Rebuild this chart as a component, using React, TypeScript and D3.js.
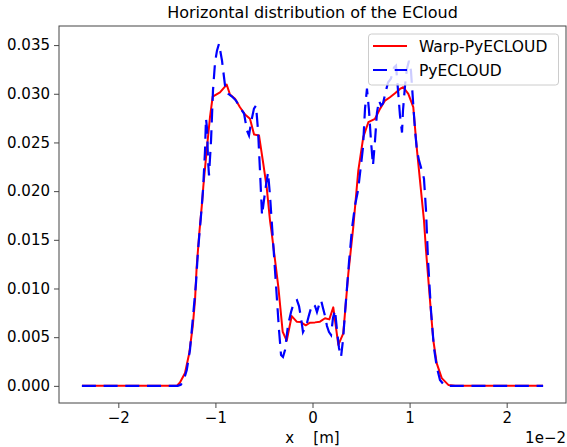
import React, { useEffect, useRef } from 'react'
import * as d3 from 'd3'

// Warp-PyECLOUD (rode lijn), x in 1e-2 m
const xRed = [-2.375, -1.398, -1.365, -1.313, -1.269, -1.234, -1.21, -1.193, -1.166, -1.135, -1.125, -1.09, -1.056, -1.028, -0.953, -0.884, -0.85, -0.798, -0.747, -0.695, -0.644, -0.602, -0.551, -0.507, -0.472, -0.438, -0.42, -0.352, -0.307, -0.266, -0.214, -0.163, -0.122, -0.07, -0.026, 0.026, 0.077, 0.129, 0.173, 0.214, 0.266, 0.317, 0.369, 0.42, 0.472, 0.523, 0.575, 0.644, 0.695, 0.747, 0.798, 0.85, 0.901, 0.935, 0.987, 1.038, 1.073, 1.107, 1.148, 1.169, 1.21, 1.244, 1.279, 1.331, 1.399, 1.47, 2.375]
const yRed = [0, 0, 0.00034, 0.00133, 0.00338, 0.00608, 0.00881, 0.01222, 0.01568, 0.01906, 0.02042, 0.02418, 0.02759, 0.02971, 0.03015, 0.03094, 0.02992, 0.02948, 0.02862, 0.02787, 0.02743, 0.02582, 0.02572, 0.02282, 0.02042, 0.01701, 0.01568, 0.01017, 0.00556, 0.00464, 0.00717, 0.00659, 0.00656, 0.00622, 0.00649, 0.00652, 0.00659, 0.00694, 0.00683, 0.00806, 0.0042, 0.0054, 0.01155, 0.01632, 0.02213, 0.02554, 0.02708, 0.02743, 0.02845, 0.0293, 0.02964, 0.03005, 0.0305, 0.03067, 0.02999, 0.02862, 0.02452, 0.02111, 0.01701, 0.01393, 0.00881, 0.00471, 0.00233, 0.00079, 0.0001, 0, 0]

// PyECLOUD (blauwe stippellijn)
const xBlue = [-2.375, -1.388, -1.357, -1.326, -1.295, -1.262, -1.231, -1.2, -1.179, -1.148, -1.128, -1.107, -1.097, -1.086, -1.076, -1.066, -1.045, -1.025, -1.004, -0.984, -0.963, -0.932, -0.901, -0.87, -0.829, -0.788, -0.747, -0.705, -0.675, -0.654, -0.633, -0.603, -0.582, -0.561, -0.541, -0.52, -0.5, -0.479, -0.458, -0.438, -0.407, -0.376, -0.345, -0.324, -0.304, -0.283, -0.252, -0.221, -0.191, -0.16, -0.139, -0.118, -0.098, -0.077, -0.057, -0.036, -0.015, 0.005, 0.026, 0.046, 0.067, 0.088, 0.108, 0.129, 0.149, 0.17, 0.191, 0.211, 0.232, 0.252, 0.273, 0.294, 0.314, 0.345, 0.376, 0.407, 0.438, 0.469, 0.499, 0.52, 0.541, 0.561, 0.582, 0.602, 0.623, 0.644, 0.664, 0.685, 0.705, 0.726, 0.757, 0.778, 0.808, 0.839, 0.86, 0.881, 0.901, 0.922, 0.932, 0.953, 0.973, 0.994, 1.014, 1.035, 1.056, 1.076, 1.097, 1.117, 1.148, 1.169, 1.19, 1.22, 1.251, 1.282, 1.313, 1.354, 1.395, 2.375]
const yBlue = [0, 0, 0.0001, 0.0006, 0.00164, 0.00369, 0.00707, 0.01055, 0.01393, 0.01752, 0.02008, 0.02418, 0.02746, 0.02643, 0.02316, 0.02162, 0.02521, 0.03033, 0.0332, 0.03443, 0.03514, 0.0334, 0.03084, 0.03002, 0.02971, 0.0293, 0.02859, 0.02797, 0.02623, 0.02572, 0.02705, 0.02848, 0.02879, 0.02623, 0.02213, 0.01752, 0.01906, 0.02059, 0.02193, 0.01957, 0.01496, 0.01035, 0.00574, 0.00318, 0.00297, 0.00369, 0.00625, 0.00758, 0.00861, 0.00881, 0.0082, 0.00697, 0.00553, 0.00594, 0.00646, 0.00727, 0.00799, 0.0084, 0.0082, 0.00758, 0.0083, 0.00881, 0.00799, 0.00717, 0.00615, 0.00553, 0.00523, 0.00697, 0.00779, 0.00574, 0.00389, 0.00297, 0.00471, 0.00881, 0.0127, 0.01619, 0.01854, 0.02008, 0.02264, 0.02449, 0.02848, 0.03053, 0.02828, 0.02521, 0.02264, 0.02521, 0.02807, 0.0293, 0.02879, 0.029, 0.03033, 0.03115, 0.03156, 0.03268, 0.03289, 0.03033, 0.02777, 0.02602, 0.02828, 0.03084, 0.03258, 0.0334, 0.03238, 0.0293, 0.02623, 0.02418, 0.02316, 0.02244, 0.02131, 0.01803, 0.01291, 0.00779, 0.00389, 0.00184, 0.00061, 0.0001, 0, 0]

const xTicks = [-2, -1, 0, 1, 2]
const yTicks = [0, 0.005, 0.01, 0.015, 0.02, 0.025, 0.03, 0.035]
const seriesNames = ['Warp-PyECLOUD', 'PyECLOUD']

const W = 567
const H = 447
const font = 'DejaVu Sans, sans-serif'

export default function App() {
	const ref = useRef<SVGSVGElement>(null)

	useEffect(() => {
		const svg = d3.select(ref.current)
		svg.selectAll('*').remove()

		// plotgebied
		const left = 59, right = 566, top = 26, bottom = 403
		const x = d3.scaleLinear().domain([-2.611, 2.611]).range([left, right])
		const y = d3.scaleLinear().domain([-0.00176, 0.03696]).range([bottom, top])

		svg.append('clipPath').attr('id', 'clip')
			.append('rect').attr('x', left).attr('y', top).attr('width', right - left).attr('height', bottom - top)

		const line = d3.line<[number, number]>().x(d => x(d[0])).y(d => y(d[1]))
		const red = xRed.map((v, i) => [v, yRed[i]] as [number, number])
		const blue = xBlue.map((v, i) => [v, yBlue[i]] as [number, number])

		const plot = svg.append('g').attr('clip-path', 'url(#clip)')
		plot.append('path').attr('d', line(red)).attr('fill', 'none').attr('stroke', '#ff0000').attr('stroke-width', 2).attr('stroke-linejoin', 'round')
		plot.append('path').attr('d', line(blue)).attr('fill', 'none').attr('stroke', '#0000ff').attr('stroke-width', 2.2).attr('stroke-dasharray', '14 7.7')

		// assen
		const xaxis = d3.axisBottom(x).tickValues(xTicks).tickSize(5).tickPadding(4).tickFormat(d3.format('d'))
		const yaxis = d3.axisLeft(y).tickValues(yTicks).tickSize(5).tickPadding(4).tickFormat(d3.format('.3f'))
		const gx = svg.append('g').attr('transform', `translate(0,${bottom})`).call(xaxis)
		const gy = svg.append('g').attr('transform', `translate(${left},0)`).call(yaxis)
		;[gx, gy].forEach(g => {
			g.select('.domain').remove()
			g.selectAll('line').attr('stroke', '#333').attr('stroke-width', 0.9)
			g.selectAll('text').attr('font-family', font).attr('font-size', 15).attr('fill', '#000')
		})

		svg.append('rect').attr('x', left).attr('y', top).attr('width', right - left).attr('height', bottom - top)
			.attr('fill', 'none').attr('stroke', '#444').attr('stroke-width', 1)

		// legenda
		const lg = svg.append('g')
		lg.append('rect').attr('x', 368.5).attr('y', 34).attr('width', 190).attr('height', 51).attr('rx', 3)
			.attr('fill', 'white').attr('fill-opacity', 0.8).attr('stroke', '#cccccc').attr('stroke-width', 1)
		const rows = [
			{ name: seriesNames[0], color: '#ff0000', dash: null, yy: 46 },
			{ name: seriesNames[1], color: '#0000ff', dash: '14 7.7', yy: 70 },
		]
		rows.forEach(r => {
			lg.append('line').attr('x1', 373).attr('x2', 407).attr('y1', r.yy).attr('y2', r.yy)
				.attr('stroke', r.color).attr('stroke-width', 2).attr('stroke-dasharray', r.dash)
			lg.append('text').attr('x', 419).attr('y', r.yy + 5.5).text(r.name)
				.attr('font-family', font).attr('font-size', 15.5)
		})

		// titels
		svg.append('text').attr('x', (left + right) / 2).attr('y', 18).attr('text-anchor', 'middle')
			.attr('font-family', font).attr('font-size', 16).text('Horizontal distribution of the ECloud')
		svg.append('text').attr('x', (left + right) / 2).attr('y', 443).attr('text-anchor', 'middle')
			.attr('font-family', font).attr('font-size', 15).style('white-space', 'pre').text('x    [m]')
		svg.append('text').attr('x', right).attr('y', 443).attr('text-anchor', 'end')
			.attr('font-family', font).attr('font-size', 15).text('1e\u22122')
	}, [])

	return (
		<svg
			ref={ref}
			width={W}
			height={H}
			style={{ position: 'absolute', left: 0, top: 0, background: 'white' }}
		/>
	)
}
